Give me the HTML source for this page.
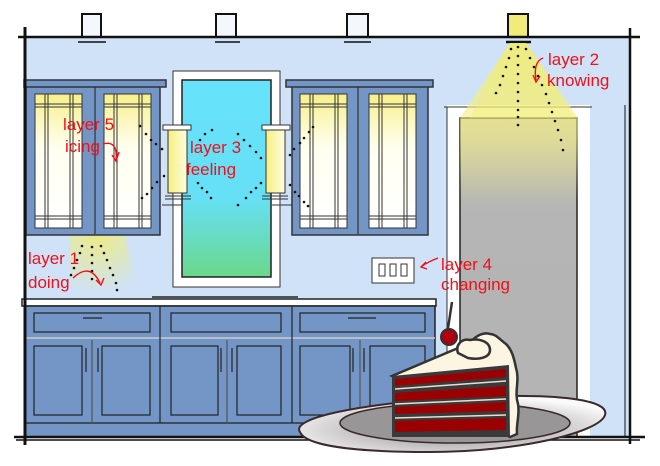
<!DOCTYPE html>
<html><head><meta charset="utf-8"><style>
html,body{margin:0;padding:0;background:#fff;}
svg{display:block;}
.lbl{font-family:"Liberation Sans Narrow","Liberation Sans",sans-serif;fill:#f0101a;font-size:17px;font-stretch:condensed;}
</style></head><body>
<svg width="660" height="466" viewBox="0 0 660 466" xmlns="http://www.w3.org/2000/svg">
<defs>
<linearGradient id="gl" x1="0" y1="0" x2="0" y2="1">
<stop offset="0" stop-color="#f7f08a"/><stop offset="0.4" stop-color="#fffff0"/><stop offset="1" stop-color="#fff"/></linearGradient>
<linearGradient id="mir" x1="0" y1="0" x2="0" y2="1">
<stop offset="0" stop-color="#66e2fb"/><stop offset="0.6" stop-color="#66e0f6"/><stop offset="1" stop-color="#6ad88a"/></linearGradient>
<linearGradient id="door" x1="0" y1="0" x2="0" y2="1">
<stop offset="0" stop-color="#c9c9a6"/><stop offset="0.3" stop-color="#b5b5b5"/><stop offset="1" stop-color="#b3b3b3"/></linearGradient>
<linearGradient id="sc" x1="0" y1="0" x2="1" y2="0">
<stop offset="0" stop-color="#f6ef7e"/><stop offset="1" stop-color="#fffde0"/></linearGradient>
<radialGradient id="plate" cx="0.5" cy="0.6" r="0.6">
<stop offset="0" stop-color="#8f8c8e"/><stop offset="0.7" stop-color="#d8d6d7"/><stop offset="1" stop-color="#fafafa"/></radialGradient>
<radialGradient id="glow1" cx="0.4" cy="0" r="0.9">
<stop offset="0" stop-color="#f4ee6a"/><stop offset="1" stop-color="#f4ee6a" stop-opacity="0"/></radialGradient>
<linearGradient id="cone" x1="0" y1="0" x2="0" y2="1">
<stop offset="0" stop-color="#f4ee6a"/><stop offset="0.6" stop-color="#f4ee8a" stop-opacity="0.7"/><stop offset="1" stop-color="#f4ee8a" stop-opacity="0"/></linearGradient>
</defs>
<rect x="25" y="37" width="605" height="400" fill="#cfe2f7"/>
<g stroke="#111" stroke-width="2" fill="#f4f8fd">
<path d="M82 37V14H101V37"/><path d="M216 37V14H236V37"/><path d="M347 37V14H368V37"/>
<path d="M508 37V14H528V37" fill="#f1ec7a"/>
</g>
<g stroke="#111" stroke-width="1.5"><line x1="78" y1="42" x2="106" y2="42"/><line x1="215" y1="42" x2="240" y2="42"/><line x1="344" y1="42" x2="371" y2="42"/></g>
<line x1="506" y1="42" x2="531" y2="42" stroke="#111" stroke-width="2.5"/>
<line x1="18" y1="37" x2="640" y2="37" stroke="#111" stroke-width="2.5"/>
<!-- door -->
<rect x="447" y="105" width="143" height="332" fill="#fff"/>
<line x1="444" y1="107" x2="592" y2="107" stroke="#333" stroke-width="1"/>
<line x1="447" y1="107" x2="447" y2="437" stroke="#333" stroke-width="1"/>
<rect x="460" y="118" width="117" height="319" fill="url(#door)" stroke="#222" stroke-width="1.5"/>
<polygon points="510,43 526,43 578,118 578,200 460,200 460,118" fill="url(#cone)" opacity="0.8"/>
<polygon points="510,43 526,43 575,118 470,118" fill="#f4ee6a" opacity="0.35"/>
<!-- upper cabinets -->
<g>
<rect x="26" y="86" width="134" height="149" fill="#7396c6" stroke="#333" stroke-width="1.5"/>
<rect x="24" y="80" width="142" height="7" fill="#7396c6" stroke="#333" stroke-width="1.5"/>
<line x1="95" y1="87" x2="95" y2="234" stroke="#333" stroke-width="1.2"/>
<rect x="292" y="86" width="136" height="149" fill="#7396c6" stroke="#333" stroke-width="1.5"/>
<rect x="286" y="80" width="147" height="7" fill="#7396c6" stroke="#333" stroke-width="1.5"/>
<line x1="358" y1="87" x2="358" y2="234" stroke="#333" stroke-width="1.2"/>
</g>
<g stroke="#333" stroke-width="1">
<g id="gl1"><rect x="35" y="94" width="47" height="134" fill="url(#gl)"/>
<line x1="45" y1="94" x2="45" y2="228"/><line x1="48" y1="94" x2="48" y2="228"/>
<line x1="70" y1="94" x2="70" y2="228"/><line x1="73" y1="94" x2="73" y2="228"/>
<line x1="35" y1="104" x2="82" y2="104"/><line x1="35" y1="107" x2="82" y2="107"/>
<line x1="35" y1="216" x2="82" y2="216"/><line x1="35" y1="219" x2="82" y2="219"/></g>
<use href="#gl1" x="69"/><use href="#gl1" x="265"/><use href="#gl1" x="334"/>
</g>
<path d="M70 236 H125 L140 300 H70 Z" fill="url(#glow1)" opacity="0.8"/>
<!-- mirror -->
<rect x="173" y="71" width="107" height="216" fill="#fff" stroke="#333" stroke-width="1"/>
<rect x="182" y="80" width="89" height="197" fill="url(#mir)" stroke="#222" stroke-width="1.5"/>
<g stroke="#333" stroke-width="1">
<rect x="163" y="125" width="28" height="5" fill="#fff"/><rect x="168" y="130" width="19" height="63" fill="url(#sc)"/>
<line x1="165" y1="196" x2="191" y2="196"/><line x1="165" y1="199" x2="191" y2="199"/><line x1="162" y1="205" x2="182" y2="205"/>
<rect x="262" y="125" width="28" height="5" fill="#fff"/><rect x="266" y="130" width="19" height="63" fill="url(#sc)"/>
<line x1="262" y1="196" x2="288" y2="196"/><line x1="262" y1="199" x2="288" y2="199"/><line x1="272" y1="205" x2="292" y2="205"/>
</g>
<g fill="#111">
<circle cx="140" cy="126" r="1.3"/><circle cx="146" cy="134" r="1.3"/><circle cx="151" cy="140" r="1.3"/><circle cx="156" cy="144" r="1.3"/><circle cx="162" cy="149" r="1.3"/>
<circle cx="142" cy="198" r="1.3"/><circle cx="147" cy="194" r="1.3"/><circle cx="152" cy="188" r="1.3"/><circle cx="157" cy="182" r="1.3"/><circle cx="164" cy="176" r="1.3"/>
<circle cx="200" cy="140" r="1.3"/><circle cx="205" cy="134" r="1.3"/><circle cx="212" cy="130" r="1.3"/>
<circle cx="198" cy="183" r="1.3"/><circle cx="202" cy="188" r="1.3"/><circle cx="207" cy="192" r="1.3"/><circle cx="211" cy="198" r="1.3"/>
<circle cx="238" cy="134" r="1.3"/><circle cx="244" cy="140" r="1.3"/><circle cx="250" cy="146" r="1.3"/><circle cx="256" cy="152" r="1.3"/><circle cx="261" cy="158" r="1.3"/>
<circle cx="238" cy="205" r="1.3"/><circle cx="246" cy="198" r="1.3"/><circle cx="251" cy="192" r="1.3"/><circle cx="256" cy="188" r="1.3"/><circle cx="261" cy="183" r="1.3"/>
<circle cx="290" cy="155" r="1.3"/><circle cx="294" cy="149" r="1.3"/><circle cx="300" cy="143" r="1.3"/><circle cx="304" cy="138" r="1.3"/><circle cx="309" cy="132" r="1.3"/><circle cx="313" cy="127" r="1.3"/>
<circle cx="290" cy="185" r="1.3"/><circle cx="295" cy="192" r="1.3"/><circle cx="299" cy="196" r="1.3"/><circle cx="304" cy="202" r="1.3"/><circle cx="308" cy="206" r="1.3"/>
<circle cx="82" cy="246" r="1.3"/><circle cx="80" cy="253" r="1.3"/><circle cx="77" cy="260" r="1.3"/><circle cx="74" cy="268" r="1.3"/><circle cx="71" cy="275" r="1.3"/>
<circle cx="92" cy="247" r="1.3"/><circle cx="92" cy="255" r="1.3"/><circle cx="92" cy="263" r="1.3"/><circle cx="92" cy="271" r="1.3"/><circle cx="92" cy="279" r="1.3"/>
<circle cx="101" cy="246" r="1.3"/><circle cx="104" cy="253" r="1.3"/><circle cx="107" cy="260" r="1.3"/><circle cx="110" cy="268" r="1.3"/><circle cx="113" cy="275" r="1.3"/><circle cx="116" cy="283" r="1.3"/><circle cx="117" cy="290" r="1.3"/>
<circle cx="511" cy="49" r="1.3"/><circle cx="509" cy="58" r="1.3"/><circle cx="506" cy="67" r="1.3"/><circle cx="503" cy="76" r="1.3"/><circle cx="500" cy="85" r="1.3"/><circle cx="496" cy="93" r="1.3"/>
<circle cx="518" cy="47" r="1.3"/><circle cx="518" cy="56" r="1.3"/><circle cx="518" cy="65" r="1.3"/><circle cx="518" cy="74" r="1.3"/><circle cx="518" cy="83" r="1.3"/><circle cx="518" cy="92" r="1.3"/><circle cx="518" cy="101" r="1.3"/><circle cx="518" cy="110" r="1.3"/><circle cx="518" cy="117" r="1.3"/><circle cx="518" cy="125" r="1.3"/>
<circle cx="526" cy="49" r="1.3"/><circle cx="530" cy="58" r="1.3"/><circle cx="534" cy="67" r="1.3"/><circle cx="538" cy="76" r="1.3"/><circle cx="542" cy="85" r="1.3"/><circle cx="546" cy="94" r="1.3"/><circle cx="549" cy="103" r="1.3"/><circle cx="552" cy="112" r="1.3"/><circle cx="555" cy="121" r="1.3"/><circle cx="558" cy="130" r="1.3"/><circle cx="561" cy="140" r="1.3"/><circle cx="563" cy="150" r="1.3"/>
</g>
<rect x="372" y="258" width="42" height="25" fill="#fff" stroke="#333" stroke-width="1"/>
<g fill="none" stroke="#333" stroke-width="1"><rect x="379" y="264" width="6" height="12"/><rect x="390" y="264" width="6" height="12"/><rect x="401" y="264" width="6" height="12"/></g>
<line x1="152" y1="297" x2="298" y2="297" stroke="#222" stroke-width="1.5"/>
<rect x="22" y="299" width="414" height="7" fill="#fff" stroke="#222" stroke-width="1.5"/>
<rect x="25" y="306" width="410" height="131" fill="#7396c6" stroke="#222" stroke-width="1.5"/>
<g stroke="#222" stroke-width="1.2" fill="none">
<line x1="25" y1="338" x2="435" y2="338" stroke="#ccc" stroke-width="1.5"/>
<line x1="25" y1="423" x2="435" y2="423"/>
<line x1="160" y1="306" x2="160" y2="423"/><line x1="292" y1="306" x2="292" y2="423"/>
<line x1="92" y1="340" x2="92" y2="423" stroke="#555"/><line x1="227" y1="340" x2="227" y2="423" stroke="#555"/><line x1="360" y1="340" x2="360" y2="423" stroke="#555"/>
<rect x="34" y="313" width="116" height="19"/><rect x="171" y="313" width="110" height="19"/><rect x="300" y="313" width="125" height="19"/>
<line x1="83" y1="318" x2="102" y2="318"/><line x1="348" y1="318" x2="376" y2="318"/>
<rect x="34" y="346" width="48" height="69"/><rect x="102" y="346" width="48" height="69"/>
<rect x="171" y="346" width="47" height="69"/><rect x="237" y="346" width="44" height="69"/>
<rect x="300" y="346" width="50" height="69"/><rect x="370" y="346" width="55" height="69"/>
<line x1="86" y1="348" x2="86" y2="372"/><line x1="98" y1="348" x2="98" y2="372"/>
<line x1="221" y1="348" x2="221" y2="372"/><line x1="232" y1="348" x2="232" y2="372"/>
<line x1="353" y1="348" x2="353" y2="372"/><line x1="364" y1="348" x2="364" y2="372"/>
</g>
<line x1="25" y1="27" x2="25" y2="445" stroke="#111" stroke-width="3"/>
<line x1="630" y1="28" x2="630" y2="444" stroke="#111" stroke-width="2.5"/>
<line x1="14" y1="437" x2="645" y2="437" stroke="#111" stroke-width="2.5"/>
<line x1="16" y1="440" x2="640" y2="440" stroke="#111" stroke-width="1.5"/>
<line x1="625" y1="105" x2="625" y2="437" stroke="#111" stroke-width="1"/>
<path d="M300 432 C290 418 360 403 470 397 C560 393 610 400 605 415 C600 432 520 452 430 452 C350 452 305 445 300 432 Z" fill="url(#plate)" stroke="#3a2a2c" stroke-width="2"/>
<ellipse cx="455" cy="423" rx="115" ry="20" fill="#999698" stroke="#3a2a2c" stroke-width="1.5"/>
<path d="M392 376 L470 343 C476 335 484 332 490 334 C496 334 500 340 506 344 C512 350 514 358 516 368 C520 380 514 392 518 404 C520 414 516 424 517 434 L510 437 Z" fill="#fbf5e2" stroke="#333" stroke-width="2.5"/>
<path d="M458 353 C455 345 462 338 470 340 C480 338 490 342 490 350 C490 358 478 360 468 358 Z" fill="#fbf5e2" stroke="#333" stroke-width="2.5"/>
<line x1="447" y1="335" x2="452" y2="302" stroke="#333" stroke-width="2.5"/>
<circle cx="449" cy="337" r="8" fill="#b00010" stroke="#333" stroke-width="2"/>
<path d="M392 376 L509 365 L510 437 L392 437 Z" fill="#3a3a3c"/>
<g fill="#9a0000">
<path d="M395 379 L506 369 L506 377 L395 386 Z"/>
<path d="M395 393 L506 386 L506 396 L395 401 Z"/>
<path d="M395 407 L506 402 L506 411 L395 414 Z"/>
<path d="M395 421 L506 418 L506 430 L395 432 Z"/>
</g>
<g stroke="#e8e0cc" stroke-width="1.5"><line x1="395" y1="389" x2="506" y2="381"/><line x1="395" y1="404" x2="506" y2="399"/><line x1="395" y1="418" x2="506" y2="415"/></g>
<text class="lbl" x="63" y="130">layer 5</text>
<text class="lbl" x="65" y="152">icing</text>
<path d="M103 144 Q118 140 116 160" fill="none" stroke="#f0101a" stroke-width="1.4"/><path d="M112 155 L116 161 L119 152" fill="none" stroke="#f0101a" stroke-width="1.4"/>
<text class="lbl" x="190" y="153">layer 3</text>
<text class="lbl" x="186" y="175">feeling</text>
<text class="lbl" x="28" y="264">layer 1</text>
<text class="lbl" x="28" y="288">doing</text>
<path d="M73 278 Q90 262 100 283" fill="none" stroke="#f0101a" stroke-width="1.4"/><path d="M96 280 L101 285 L104 278" fill="none" stroke="#f0101a" stroke-width="1.4"/>
<text class="lbl" x="548" y="65">layer 2</text>
<text class="lbl" x="547" y="86">knowing</text>
<path d="M543 58 Q533 62 536 80" fill="none" stroke="#f0101a" stroke-width="1.4"/><path d="M533 75 L536 82 L540 76" fill="none" stroke="#f0101a" stroke-width="1.4"/>
<text class="lbl" x="441" y="270">layer 4</text>
<text class="lbl" x="441" y="290">changing</text>
<path d="M438 258 Q428 262 422 266" fill="none" stroke="#f0101a" stroke-width="1.4"/><path d="M426 262 L421 267 L427 269" fill="none" stroke="#f0101a" stroke-width="1.4"/>
</svg>
</body></html>
